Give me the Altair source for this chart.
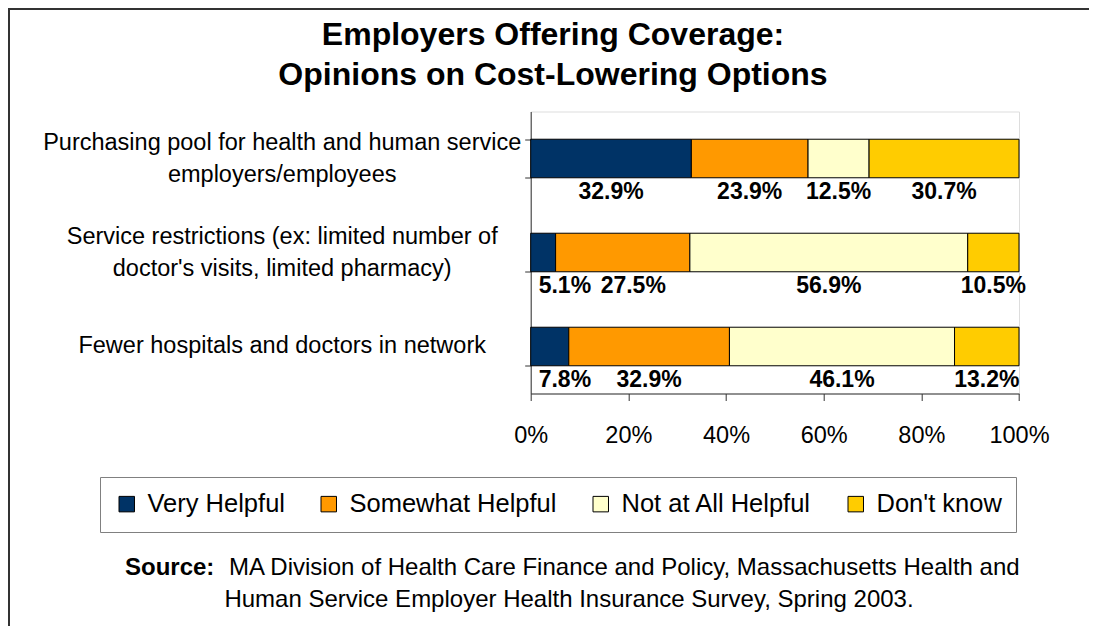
import altair as alt
import pandas as pd

# ---- data ----
options = [
    "Purchasing pool for health and human service|employers/employees",
    "Service restrictions (ex: limited number of|doctor's visits, limited pharmacy)",
    "Fewer hospitals and doctors in network",
]
categories = ["Very Helpful", "Somewhat Helpful", "Not at All Helpful", "Don't know"]
very_helpful = [32.9, 5.1, 7.8]
somewhat_helpful = [23.9, 27.5, 32.9]
not_helpful = [12.5, 56.9, 46.1]
dont_know = [30.7, 10.5, 13.2]
colors = ["#003366", "#FF9900", "#FFFFCC", "#FFCC00"]
x_ticks = [0, 20, 40, 60, 80, 100]

title_lines = ["Employers Offering Coverage:", "Opinions on Cost-Lowering Options"]
source_label = "Source:"
source_line1 = "MA Division of Health Care Finance and Policy, Massachusetts Health and"
source_line2 = "Human Service Employer Health Insurance Survey, Spring 2003."

series = [very_helpful, somewhat_helpful, not_helpful, dont_know]
rows = []
for ci, (cat, vals) in enumerate(zip(categories, series)):
    for opt, v in zip(options, vals):
        rows.append({"option": opt, "category": cat, "value": v, "order": ci})
df = pd.DataFrame(rows)

FONT = "Liberation Sans"

base = (
    alt.Chart(df)
    .transform_stack(
        stack="value", as_=["x0", "x1"], groupby=["option"],
        sort=[alt.SortField("order", order="ascending")],
    )
    .transform_calculate(
        # label sits under the middle of its segment, kept clear of the axis line
        mid0="max((datum.x0 + datum.x1) / 2, 7)",
        label="format(datum.value, '.1f') + '%'",
    )
    .transform_window(
        prev_mid="lag(mid0)", groupby=["option"],
        sort=[alt.SortField("order", order="ascending")],
    )
    .transform_calculate(
        # keep neighbouring labels from running into each other
        mid="datum.prev_mid == null ? datum.mid0 : max(datum.mid0, datum.prev_mid + 14)"
    )
)

y_enc = alt.Y(
    "option:N",
    sort=options,
    scale=alt.Scale(paddingInner=0.59, paddingOuter=0.295),
    axis=alt.Axis(
        title=None,
        labelExpr="split(datum.label, '|')",
        labelAlign="center",
        labelBaseline="middle",
        labelPadding=243,
        labelOffset={"condition": {"test": "indexof(datum.label, '|') >= 0", "value": -16}, "value": -1},
        labelFontSize=23.5,
        labelLineHeight=32,
        labelLimit=0,
        labelColor="#000",
        labelFont=FONT,
        tickBand="extent",
        tickSize=6,
        tickColor="#333",
        domainColor="#333",
    ),
)

bars = base.mark_bar(stroke="#000", strokeWidth=1).encode(
    y=y_enc,
    x=alt.X(
        "x0:Q",
        scale=alt.Scale(domain=[0, 100], nice=False),
        axis=alt.Axis(
            title=None,
            values=x_ticks,
            labelExpr="datum.value + '%'",
            tickSize=7,
            labelPadding=23,
            labelFontSize=23.5,
            labelColor="#000",
            labelFont=FONT,
            labelFlush=False,
            grid=False,
            tickColor="#333",
            domainColor="#333",
        ),
    ),
    x2="x1:Q",
    color=alt.Color(
        "category:N",
        scale=alt.Scale(domain=categories, range=colors),
        legend=alt.Legend(
            title=None,
            orient="none",
            legendX=-430.7,
            legendY=365.5,
            direction="horizontal",
            strokeColor="#808080",
            fillColor="#ffffff",
            padding=14,
            labelFontSize=25.5,
            labelFont=FONT,
            labelColor="#000",
            labelOffset=8,
            labelLimit=0,
            columnPadding=31,
            symbolType="square",
            symbolSize=240,
            symbolStrokeColor="#000",
            symbolStrokeWidth=1,
            symbolOpacity=1,
        ),
    ),
)

texts = base.mark_text(
    fontSize=23, fontWeight="bold", font=FONT, baseline="middle", dy=33, color="#000"
).encode(
    y=alt.Y("option:N", sort=options),
    x=alt.X("mid:Q"),
    text="label:N",
)

ann = alt.Chart(pd.DataFrame({"k": [0]}))

title = ann.mark_text(
    fontSize=32, fontWeight="bold", font=FONT, baseline="middle", align="center",
    lineHeight=40, color="#000",
).encode(x=alt.value(22.3), y=alt.value(-76.5), text=alt.value(title_lines))

src_a = ann.mark_text(
    fontSize=24, fontWeight="bold", font=FONT, baseline="middle", align="left", color="#000"
).encode(x=alt.value(-405.7), y=alt.value(456.5), text=alt.value(source_label))

src_b = ann.mark_text(
    fontSize=24, font=FONT, baseline="middle", align="left", color="#000"
).encode(x=alt.value(-301.7), y=alt.value(456.5), text=alt.value(source_line1))

src_c = ann.mark_text(
    fontSize=24, font=FONT, baseline="middle", align="center", color="#000"
).encode(x=alt.value(38.3), y=alt.value(488.5), text=alt.value(source_line2))

border_top = ann.mark_rule(color="#333", strokeWidth=2).encode(
    x=alt.value(-522.7), x2=alt.value(570), y=alt.value(-102.5)
)
border_left = ann.mark_rule(color="#333", strokeWidth=2).encode(
    x=alt.value(-521.7), y=alt.value(-103.5), y2=alt.value(530)
)

chart = (
    alt.layer(bars, texts, title, src_a, src_b, src_c, border_top, border_left)
    .properties(
        width=488.3,
        height=282,
        autosize=alt.AutoSizeParams(type="none"),
        padding={"left": 522.7, "top": 103.5, "right": 70, "bottom": 232},
    )
    .configure_view(stroke="#808080", strokeWidth=1)
    .configure(font=FONT)
)

chart.save("out.html", embed_options={"renderer": "svg", "actions": False})
